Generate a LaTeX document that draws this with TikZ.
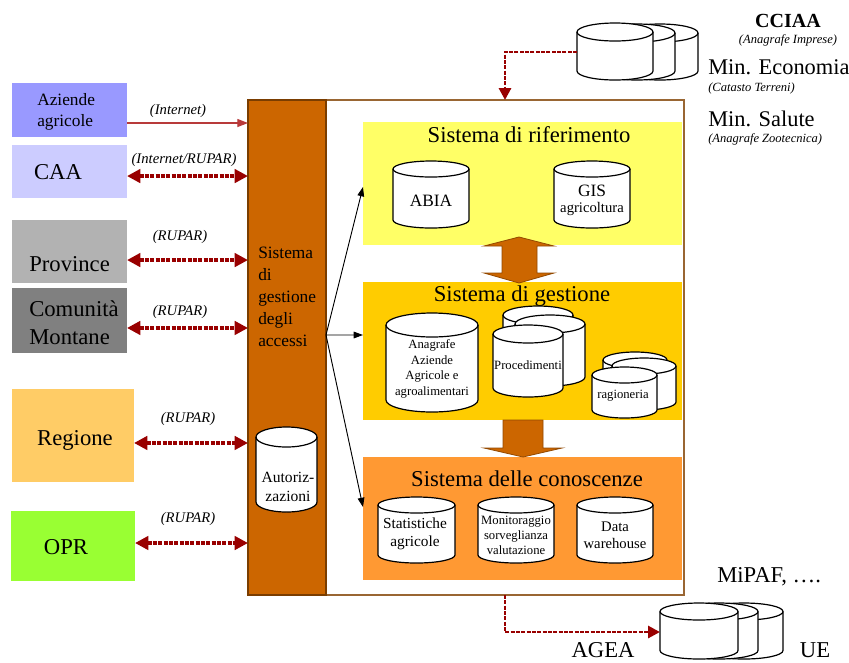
\documentclass[tikz,border=0pt]{standalone}
\usepackage{fontspec}
\setmainfont{Liberation Serif}
\usetikzlibrary{arrows.meta,fit,calc}
\definecolor{cAzi}{HTML}{9999FF}
\definecolor{cCaa}{HTML}{CCCCFF}
\definecolor{cPro}{HTML}{B2B2B2}
\definecolor{cCom}{HTML}{808080}
\definecolor{cReg}{HTML}{FFCC66}
\definecolor{cOpr}{HTML}{99FF33}
\definecolor{cBar}{HTML}{CC6600}
\definecolor{cBarD}{HTML}{7A3D00}
\definecolor{cYel}{HTML}{FFFF66}
\definecolor{cGold}{HTML}{FFCC00}
\definecolor{cOra}{HTML}{FF9933}
\definecolor{cRed}{HTML}{990000}
\definecolor{cWeb}{HTML}{B83A3A}
\definecolor{cBorder}{HTML}{996633}
\newcommand\fs[2]{\fontsize{#1}{#2}\selectfont}
\newcommand\dbcyl[5]{%
  \filldraw[cyl] (#1,#2+#5) -- (#1,#4-#5) arc[start angle=180,end angle=0,x radius={(#3-#1)/2},y radius=#5] -- (#3,#2+#5) arc[start angle=0,end angle=-180,x radius={(#3-#1)/2},y radius=#5] -- cycle;
  \draw[cyl,fill=none] (#1,#2+#5) arc[start angle=180,end angle=0,x radius={(#3-#1)/2},y radius=#5];}
\begin{document}
\begin{tikzpicture}[x=0.75pt,y=-0.75pt,
  box/.style={inner sep=0pt, outer sep=0pt},
  txt/.style={inner sep=0pt, font=\fs{17}{21}},
  lab/.style={inner sep=0pt, font=\fs{11}{13}\itshape},
  cyl/.style={draw=black, fill=white, line width=0.9pt},
  dred/.style={draw=cRed, line width=2.6pt, dash pattern=on 3pt off 1pt,
    {Triangle[length=10pt,width=10pt,fill=cRed]}-{Triangle[length=10pt,width=10pt,fill=cRed]}},
  dredone/.style={draw=cRed, line width=2.2pt, dash pattern=on 3pt off 1pt,
    -{Triangle[length=9pt,width=9pt,fill=cRed]}},
  webarrow/.style={draw=cWeb, line width=0.9pt, -{Triangle[length=8pt,width=6pt,fill=cWeb]}},
  blk/.style={draw=black, line width=0.7pt, -{Triangle[length=7pt,width=5pt]}},
  fat/.style={fill=cBar, draw=cBarD!70!cBar, line width=0.6pt}
]
\useasboundingbox (0,0) rectangle (849,662);
\fill[white] (0,0) rectangle (849,662);

% main frame and bar
\node[box, fit={(326,100)(684,595)}, draw=cBorder, line width=1.2pt, fill=white] (main) {};
\node[box, fit={(248,100)(326,595)}, draw=cBarD, line width=0.8pt, fill=cBar] (bar) {};
\node[box, fit={(363,122)(682,245)}, fill=cYel] (rif) {};
\node[box, fit={(363,282)(682,420)}, fill=cGold] (ges) {};
\node[box, fit={(363,457)(682,580)}, fill=cOra] (con) {};

% left boxes
\node[box, fit={(12,83)(127,137)}, fill=cAzi] (azi) {};
\node[box, fit={(12,145)(127,198)}, fill=cCaa] (caa) {};
\node[box, fit={(12,220)(127,283)}, fill=cPro] (pro) {};
\node[box, fit={(12,288)(127,353)}, fill=cCom] (com) {};
\node[box, fit={(12,389)(134,482)}, fill=cReg] (reg) {};
\node[box, fit={(11,511)(135,581)}, fill=cOpr] (opr) {};

\node[txt, anchor=west, align=left, font=\fs{13}{15.75}] (azit) at (37,112) {Aziende\\agricole};
\node[txt] (caat) at (58,172) {CAA};
\node[txt, anchor=west] (prot) at (29,264) {Province};
\node[txt, anchor=west, align=left] (comt) at (29,323) {Comunità\\Montane};
\node[txt] (regt) at (75,440) {Regione};
\node[txt] (oprt) at (66,547) {OPR};

% labels
\node[lab] (l1) at (178,111) {(Internet)};
\node[lab] (l2) at (184,160) {(Internet/RUPAR)};
\node[lab] (l3) at (180,237) {(RUPAR)};
\node[lab] (l4) at (180,312) {(RUPAR)};
\node[lab] (l5) at (188,419) {(RUPAR)};
\node[lab] (l6) at (188,519) {(RUPAR)};

% left connectors
\coordinate (a1) at ([yshift=-9.75pt]azi.east);
\coordinate (a2) at ([yshift=-3.4pt]caa.east);
\coordinate (a3) at ([yshift=-6.4pt]pro.east);
\coordinate (a4) at ([yshift=-5.6pt]com.east);
\coordinate (a5) at ([yshift=-5.6pt]reg.east);
\coordinate (a6) at ([yshift=2.25pt]opr.east);
\draw[webarrow] (a1) -- (a1 -| bar.west);
\draw[dred, line width=3pt] (a2) -- (a2 -| bar.west);
\draw[dred] (a3) -- (a3 -| bar.west);
\draw[dred] (a4) -- (a4 -| bar.west);
\draw[dred] (a5) -- (a5 -| bar.west);
\draw[dred] (a6) -- (a6 -| bar.west);

% bar text
\node[inner sep=0pt, anchor=west, align=left, font=\fs{13}{16.5}] (bart) at (258,297) {Sistema\\di\\gestione\\degli\\accessi};

% autorizzazioni
\dbcyl{256}{427}{317}{512}{10}
\node[inner sep=0pt, align=center, font=\fs{11.7}{14.25}] (aut) at (288,487) {Autoriz-\\zazioni};

% hub arrows
\coordinate (hub) at ([yshift=9.4pt]bar.east);
\draw[blk] (hub) -- ([yshift=-2.6pt]rif.west);
\draw[blk] (hub) -- ([yshift=12pt]ges.west);
\draw[blk] (hub) -- ([yshift=8.6pt]con.west);

% titles
\node[inner sep=0pt, font=\fs{17}{20}] (rift) at (529,135) {Sistema di riferimento};
\node[inner sep=0pt, font=\fs{17}{20}] (gest) at (522,296) {Sistema di gestione};
\node[inner sep=0pt, font=\fs{17}{20}] (cont) at (527,479) {Sistema delle conoscenze};

% fat arrows
\filldraw[fat] (519,237) -- (554,246) -- (537,246) -- (537,273) -- (554,273) -- (519,283) -- (484,273) -- (502,273) -- (502,246) -- (484,246) -- cycle;
\filldraw[fat] (503,420) -- (543,420) -- (543,448) -- (562,448) -- (523,457) -- (484,448) -- (503,448) -- cycle;

% riferimento cylinders
\dbcyl{393}{161}{469}{228}{8}
\node[inner sep=0pt, font=\fs{13}{15}] (abia) at (431,201) {ABIA};
\dbcyl{554}{161}{630}{228}{8}
\node[inner sep=0pt, align=center] (gis) at (592,200) {\fs{13}{15}GIS\\\fs{11}{15}agricoltura};

% gestione cylinders
\dbcyl{386}{313}{478}{412}{12}
\node[inner sep=0pt, align=center, font=\fs{9.5}{11.6}] (anag) at (432,369) {Anagrafe\\Aziende\\Agricole e\\agroalimentari};
\dbcyl{503}{306}{573}{376}{9}
\dbcyl{515}{315}{585}{386}{9}
\dbcyl{493}{325}{563}{397}{9}
\node[inner sep=0pt, font=\fs{9.5}{11.6}] (proc) at (528,365) {Procedimenti};
\dbcyl{603}{352}{667}{403}{8}
\dbcyl{612}{358}{676}{410}{8}
\dbcyl{592}{367}{657}{418}{8}
\node[inner sep=0pt, font=\fs{9.5}{11.6}] (rag) at (623,396) {ragioneria};

% conoscenze cylinders
\dbcyl{378}{497}{455}{563}{8}
\node[inner sep=0pt, align=center, font=\fs{11.5}{13.5}] (stat) at (415,534) {Statistiche\\agricole};
\dbcyl{478}{497}{554}{563}{8}
\node[inner sep=0pt, align=center, font=\fs{9.5}{11.25}] (moni) at (516,535) {Monitoraggio\\sorveglianza\\valutazione};
\dbcyl{577}{497}{653}{563}{8}
\node[inner sep=0pt, align=center, font=\fs{11}{12.75}] (dw) at (615,535) {Data\\warehouse};

% top right stack
\dbcyl{622}{24}{698}{80}{9}
\dbcyl{599}{24}{675}{80}{9}
\dbcyl{577}{23}{653}{80}{9}
\coordinate (ccin) at (577,52);
\draw[dredone] (ccin) -| (main.north);

\node[inner sep=0pt, font=\fs{15}{17}\bfseries] (cciaa) at (788,21) {CCIAA};
\node[inner sep=0pt, font=\fs{9.4}{11}\itshape] (cciaas) at (788,40) {(Anagrafe Imprese)};
\node[inner sep=0pt, anchor=west, font=\fs{16.8}{20}] (mine) at (708,67) {Min. Economia};
\node[inner sep=0pt, anchor=west, font=\fs{9.4}{11}\itshape] (mines) at (708,88) {(Catasto Terreni)};
\node[inner sep=0pt, anchor=west, font=\fs{16.8}{20}] (mins) at (708,119) {Min. Salute};
\node[inner sep=0pt, anchor=west, font=\fs{9.4}{11}\itshape] (minss) at (708,139) {(Anagrafe Zootecnica)};

% bottom right stack
\dbcyl{705}{603}{783}{659}{8.5}
\dbcyl{680}{603}{758}{659}{8.5}
\dbcyl{660}{603}{738}{659}{8.5}
\coordinate (agin) at (660,632);
\draw[dredone] (main.south) |- (agin);

\node[inner sep=0pt, anchor=west, font=\fs{17}{20}] (mipaf) at (717,577) {MiPAF, ….};
\node[inner sep=0pt, font=\fs{17}{20}] (agea) at (603,650) {AGEA};
\node[inner sep=0pt, font=\fs{17}{20}] (ue) at (815,650) {UE};
\end{tikzpicture}
\end{document}
